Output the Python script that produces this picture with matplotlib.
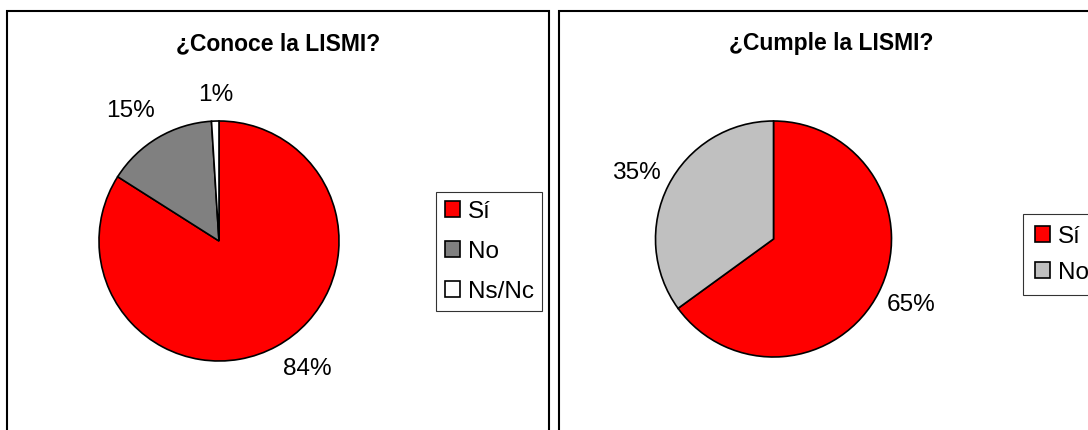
import matplotlib
matplotlib.use("Agg")
import matplotlib.pyplot as plt
from matplotlib.patches import Rectangle

plt.rcParams['font.family'] = ['Liberation Sans', 'DejaVu Sans']

# ---- data ----
title_left = "¿Conoce la LISMI?"
cats_left = ["Sí", "No", "Ns/Nc"]
vals_left = [84, 15, 1]
colors_left = ["#FF0000", "#808080", "#FFFFFF"]

title_right = "¿Cumple la LISMI?"
cats_right = ["Sí", "No"]
vals_right = [65, 35]
colors_right = ["#FF0000", "#C0C0C0"]

# ---- layout (pixels) ----
W, H = 1088, 430
fig = plt.figure(figsize=(W / 100, H / 100), dpi=100)

def px_axes(cx, cy, r):
    half = 1.25 * r
    return fig.add_axes([(cx - half) / W, (H - cy - half) / H, 2 * half / W, 2 * half / H])

def px(x, y):
    return x / W, 1 - y / H

# panel borders
for x0, x1 in [(7, 549), (559, 1110)]:
    fig.patches.append(Rectangle(px(x0, 500), (x1 - x0) / W, (500 - 11) / H,
                                 transform=fig.transFigure, fill=False,
                                 edgecolor='black', linewidth=1.5))

def draw_pie(cx, cy, r, vals, cats, colors, label_pos, title, title_x,
             leg_x, leg_y, leg_spacing, leg_pad):
    ax = px_axes(cx, cy, r)
    wedges, _ = ax.pie(vals, colors=colors, startangle=90, counterclock=False,
                       wedgeprops=dict(edgecolor='black', linewidth=1.2))
    ax.set_xlim(-1.25, 1.25)
    ax.set_ylim(-1.25, 1.25)
    ax.set_aspect('equal')
    for v, (lx, ly) in zip(vals, label_pos):
        ax.text(lx, ly, f"{v}%", ha='center', va='baseline', fontsize=17.6, color='black')
    fig.text(*px(title_x, 50), title, ha='center', va='baseline', fontsize=16.5,
             fontweight='bold')
    leg = fig.legend(wedges, cats, loc='upper left', bbox_to_anchor=px(leg_x, leg_y),
                     bbox_transform=fig.transFigure, fontsize=17.5, frameon=True,
                     fancybox=False, shadow=False, handlelength=0.62, handleheight=0.62,
                     handletextpad=0.32, labelspacing=leg_spacing, borderpad=leg_pad,
                     borderaxespad=0)
    leg.get_frame().set_edgecolor('black')
    leg.get_frame().set_linewidth(0.8)
    for h in leg.legend_handles:
        h.set_linewidth(1.2)
    return ax

draw_pie(219, 241, 120, vals_left, cats_left, colors_left,
         [(0.7375, -1.117), (-0.7375, 1.031), (-0.029, 1.167)],
         title_left, 278.5, 436, 192, 0.74, 0.36)

draw_pie(773.5, 239, 118, vals_right, cats_right, colors_right,
         [(1.169, -0.610), (-1.165, 0.508)],
         title_right, 831.5, 1023, 214, 0.57, 0.48)

fig.savefig("out.png", dpi=100, facecolor='white')
